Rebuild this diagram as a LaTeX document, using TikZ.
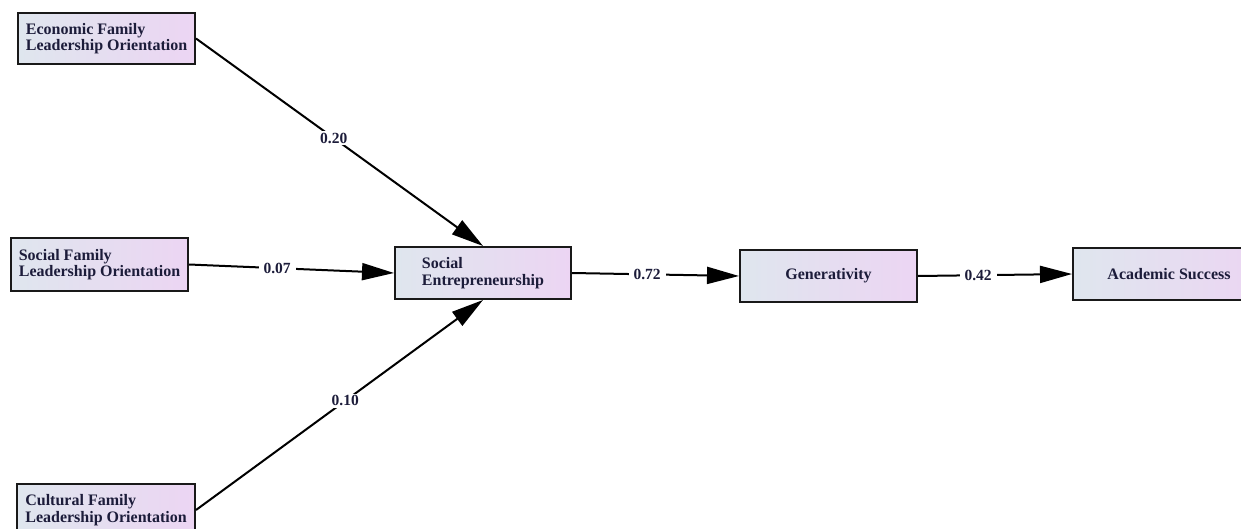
\documentclass[tikz,border=0pt]{standalone}
\usepackage{fontspec}
\setmainfont{Liberation Serif}
\usetikzlibrary{arrows.meta}
\definecolor{boxleft}{HTML}{DFE6EE}
\definecolor{boxright}{HTML}{ECD5F3}
\definecolor{txt}{HTML}{1C1C3A}
\begin{document}
\begin{tikzpicture}[x=1pt,y=-1pt,
  box/.style={draw=black!90, line width=2pt, left color=boxleft, right color=boxright,
    minimum width=177pt, minimum height=52pt, inner sep=0pt, align=left,
    text=txt, font=\bfseries\fontsize{16}{16.5}\selectfont},
  path/.style={line width=2pt, -{Triangle[length=32pt,width=17pt]}},
  coef/.style={fill=white, inner xsep=5pt, inner ysep=2pt, text=txt,
    font=\bfseries\fontsize{15.5}{16}\selectfont}]
\useasboundingbox (0,0) rectangle (1241,529);
\node[box, minimum height=51pt] (econ) at (106.5,38.5) {Economic Family\\Leadership Orientation};
\node[box, minimum height=53pt] (sf) at (99.5,264.5) {Social Family\\Leadership Orientation};
\node[box, minimum width=178pt] (cf) at (106,510) {Cultural Family\\Leadership Orientation};
\node[box, minimum width=176pt] (se) at (483,273) {Social\\Entrepreneurship};
\node[box] (gen) at (828.5,276) {Generativity};
\node[box, minimum width=192pt] (as) at (1169,274) {Academic Success};
\draw[path] (econ.east) -- node[coef, pos=0.48] {0.20} (se.north);
\draw[path] (sf.east) -- node[coef, pos=0.43] {0.07} (se.west);
\draw[path] (cf.east) -- node[coef, pos=0.52] {0.10} (se.south);
\draw[path] (se.east) -- node[coef, pos=0.45] {0.72} (gen.west);
\draw[path] (gen.east) -- node[coef, pos=0.39] {0.42} (as.west);
\end{tikzpicture}
\end{document}
